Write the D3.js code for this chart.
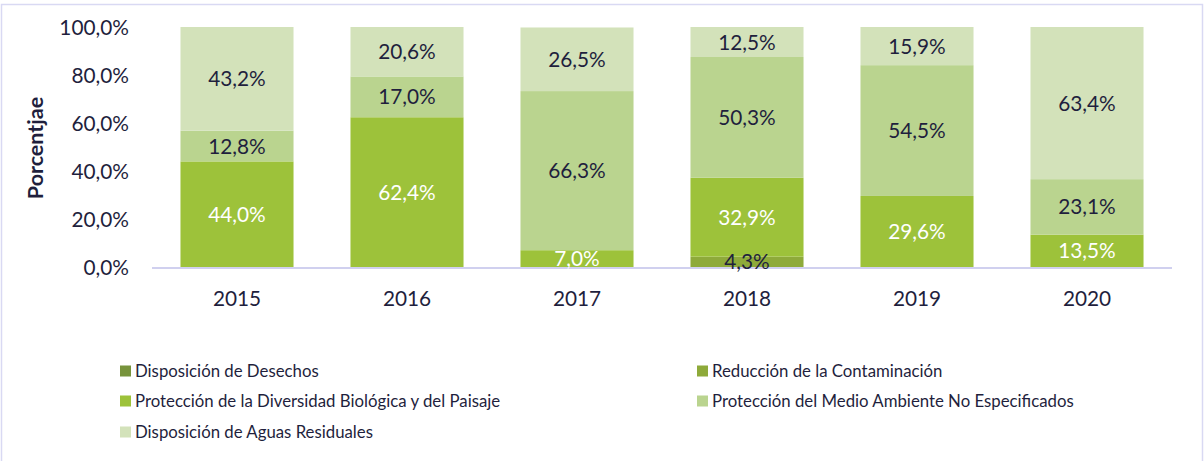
<!DOCTYPE html>
<html>
<head>
<meta charset="utf-8">
<script src="https://cdn.jsdelivr.net/npm/d3@7"></script>
<style>
  body { margin: 0; background: #fff; }
  svg text { font-family: Lato, "Open Sans", sans-serif; fill: #1f1f3d; }
</style>
</head>
<body>
<div id="chart"></div>
<script>
// datos del grafico
var years = ['2015', '2016', '2017', '2018', '2019', '2020'];
var seriesNames = ['Disposición de Desechos', 'Reducción de la Contaminación',
  'Protección de la Diversidad Biológica y del Paisaje',
  'Protección del Medio Ambiente No Especificados', 'Disposición de Aguas Residuales'];
var desechos = [0, 0, 0, 0, 0, 0];
var contaminacion = [0, 0, 0, 4.3, 0, 0];
var diversidad = [44.0, 62.4, 7.0, 32.9, 29.6, 13.5];
var noEspecificados = [12.8, 17.0, 66.3, 50.3, 54.5, 23.1];
var aguas = [43.2, 20.6, 26.5, 12.5, 15.9, 63.4];
var yTicks = [0, 20, 40, 60, 80, 100];

var colors = ['#77933c', '#8eaa3a', '#9dc23a', '#bad48f', '#d3e2ba'];
var labelColors = ['#1f1f3d', '#1f1f3d', '#ffffff', '#1f1f3d', '#1f1f3d'];

var width = 1204, height = 461;
var svg = d3.select('#chart').append('svg')
  .attr('width', width)
  .attr('height', height);

// marco
svg.append('rect')
  .attr('x', 1.5).attr('y', 4.5)
  .attr('width', width - 3).attr('height', height + 10)
  .attr('fill', 'none')
  .attr('stroke', '#d9d9f3')
  .attr('stroke-width', 1.5);

var table = years.map(function (y, i) {
  return { year: y, s0: desechos[i], s1: contaminacion[i], s2: diversidad[i], s3: noEspecificados[i], s4: aguas[i] };
});
var keys = ['s0', 's1', 's2', 's3', 's4'];
var stacked = d3.stack().keys(keys)(table);

var x = d3.scaleBand().domain(years).range([152, 1172]).paddingInner(0.335).paddingOuter(0.1675);
var y = d3.scaleLinear().domain([0, 100]).range([267, 27]);

var fmt = function (v) { return v.toFixed(1).replace('.', ',') + '%'; };

// barras
var groups = svg.append('g').selectAll('g')
  .data(stacked).enter().append('g')
  .attr('fill', function (d, i) { return colors[i]; });

groups.selectAll('rect')
  .data(function (d) { return d; })
  .enter().append('rect')
  .attr('x', function (d) { return x(d.data.year); })
  .attr('width', x.bandwidth())
  .attr('y', function (d) { return y(d[1]); })
  .attr('height', function (d) { return y(d[0]) - y(d[1]); });

// eje x
svg.append('line')
  .attr('x1', 152).attr('x2', 1172)
  .attr('y1', 268).attr('y2', 268)
  .attr('stroke', '#d0d0ef').attr('stroke-width', 2);

// etiquetas de datos
var labelGroups = [];
stacked.forEach(function (s, si) {
  var g = svg.append('g');
  g.selectAll('text')
    .data(s.filter(function (d) { return d[1] - d[0] > 0; }))
    .enter().append('text')
    .attr('x', function (d) { return x(d.data.year) + x.bandwidth() / 2; })
    .attr('y', function (d) { return y((d[0] + d[1]) / 2) + 7.5; })
    .attr('text-anchor', 'middle')
    .style('font-size', '20.8px')
    .style('fill', labelColors[si])
    .text(function (d) { return fmt(d[1] - d[0]); });
  labelGroups.push(g);
});

// tapar etiquetas blancas bajo el eje (7,0% queda cortado)
svg.append('rect')
  .attr('x', 152).attr('y', 269)
  .attr('width', 1020).attr('height', 10)
  .attr('fill', '#fff');
labelGroups.forEach(function (g, i) { if (labelColors[i] !== '#ffffff') g.raise(); });

// ticks y
svg.append('g').selectAll('text')
  .data(yTicks).enter().append('text')
  .attr('x', 129)
  .attr('y', function (d) { return y(d) + 7.5; })
  .attr('text-anchor', 'end')
  .style('font-size', '20.8px')
  .text(function (d) { return fmt(d); });

// ticks x
svg.append('g').selectAll('text')
  .data(years).enter().append('text')
  .attr('x', function (d) { return x(d) + x.bandwidth() / 2; })
  .attr('y', 306)
  .attr('text-anchor', 'middle')
  .style('font-size', '20.8px')
  .text(function (d) { return d; });

// titulo eje y
svg.append('text')
  .attr('transform', 'translate(43,148) rotate(-90)')
  .attr('text-anchor', 'middle')
  .style('font-size', '21.5px')
  .style('font-weight', 'bold')
  .text('Porcentjae');

// leyenda
var legendPos = [[120, 371], [697, 371], [120, 401], [697, 401], [120, 432]];
var legend = svg.append('g').selectAll('g')
  .data(seriesNames).enter().append('g')
  .attr('transform', function (d, i) { return 'translate(' + legendPos[i][0] + ',' + legendPos[i][1] + ')'; });
legend.append('rect')
  .attr('x', 0).attr('y', -5.5)
  .attr('width', 11).attr('height', 11)
  .attr('fill', function (d, i) { return colors[i]; });
legend.append('text')
  .attr('x', 15).attr('y', 6)
  .style('font-size', '16.8px')
  .text(function (d) { return d; });
</script>
</body>
</html>
